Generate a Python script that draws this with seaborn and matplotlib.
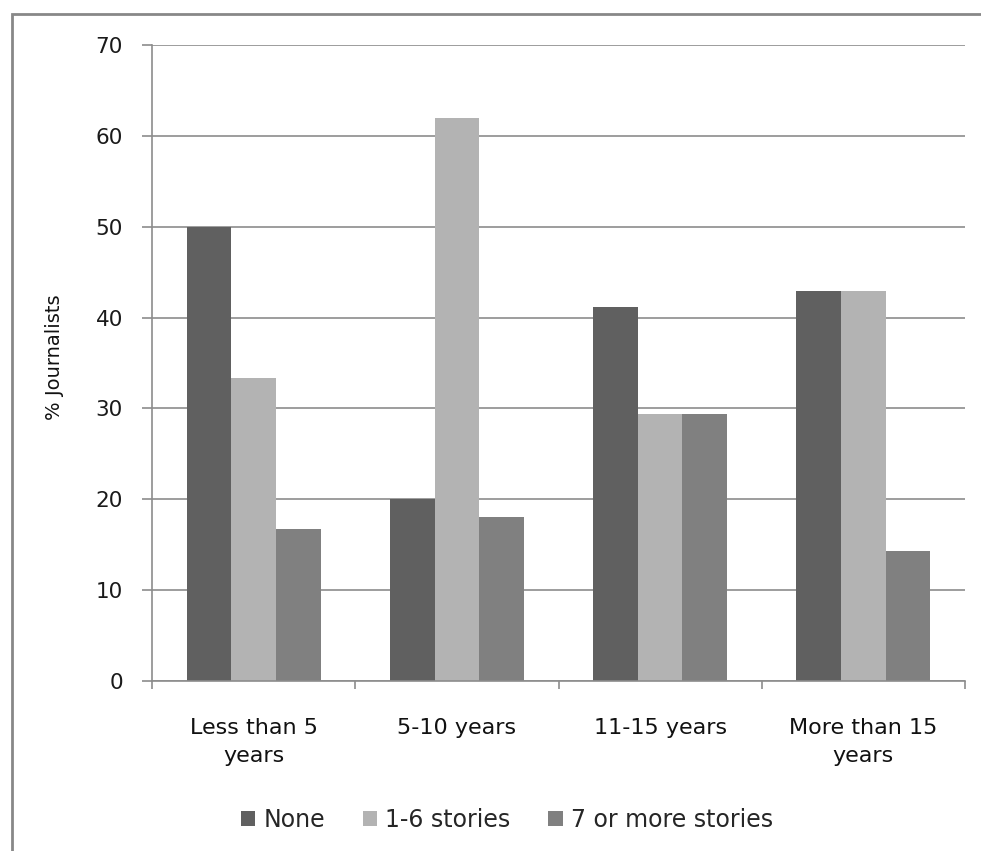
import matplotlib
matplotlib.use("Agg")
import matplotlib.pyplot as plt
import seaborn as sns
import pandas as pd
from matplotlib.patches import Rectangle

categories = ["Less than 5\nyears", "5-10 years", "11-15 years", "More than 15\nyears"]
series_names = ["None", "1-6 stories", "7 or more stories"]
none_vals = [50.0, 20.0, 41.2, 42.9]
few_vals = [33.3, 62.0, 29.4, 42.9]
many_vals = [16.7, 18.0, 29.4, 14.3]
y_ticks = [0, 10, 20, 30, 40, 50, 60, 70]
colors = ["#606060", "#b3b3b3", "#808080"]

rows = []
for name, vals in zip(series_names, [none_vals, few_vals, many_vals]):
    for cat, v in zip(categories, vals):
        rows.append({"Experience": cat, "Stories": name, "Pct": v})
df = pd.DataFrame(rows)

sns.set_theme(style="white")
plt.rcParams["font.family"] = ["DejaVu Sans"]

W, H = 981, 851
fig = plt.figure(figsize=(W / 100, H / 100), dpi=100)
ax = fig.add_axes([152 / W, 1 - 681 / H, (965 - 152) / W, (681 - 45) / H])

sns.barplot(data=df, x="Experience", y="Pct", hue="Stories",
            hue_order=series_names, order=categories, palette=colors,
            width=0.66, saturation=1, linewidth=0, ax=ax, legend=True,
            errorbar=None)

grey = "#8c8c8c"
ax.set_ylim(0, 70)
ax.set_xlim(-0.5, 3.5)
ax.set_yticks(y_ticks)
ax.set_yticklabels([str(t) for t in y_ticks], fontsize=15.5, color="#1a1a1a")
ax.yaxis.grid(True, color=grey, linewidth=1.2)
ax.set_axisbelow(True)
for s in ["top", "right"]:
    ax.spines[s].set_visible(False)
for s in ["left", "bottom"]:
    ax.spines[s].set_color(grey)
    ax.spines[s].set_linewidth(1.2)
ax.tick_params(axis="y", length=7, width=1.2, color=grey, pad=14, left=True)

# category boundary ticks on the x axis
ax.set_xticks([-0.5, 0.5, 1.5, 2.5, 3.5], minor=True)
ax.tick_params(axis="x", which="minor", length=6, width=1.2, color=grey, bottom=True)
ax.tick_params(axis="x", which="major", length=0, pad=27, labelsize=16, labelcolor="#111111")
for lbl in ax.get_xticklabels():
    lbl.set_linespacing(1.5)
ax.set_xlabel("")
ax.set_ylabel("")
fig.text(55 / W, 1 - 357 / H, "% Journalists", rotation=90, fontsize=14,
         color="#111111", ha="center", va="center")

handles, labels = ax.get_legend_handles_labels()
ax.get_legend().remove()
fig.legend(handles, labels, loc="center", bbox_to_anchor=(507 / W, 1 - 820 / H),
           ncol=3, frameon=False, fontsize=17, handlelength=0.6,
           handleheight=0.6, handletextpad=0.35, columnspacing=1.6)

# outer chart border (right and bottom edges fall outside the canvas)
fig.patches.append(Rectangle((12 / W, -0.05), 1.2, 1 - 14 / H + 0.05,
                             transform=fig.transFigure, fill=False,
                             edgecolor="#888888", linewidth=2))

fig.savefig("out.png", dpi=100)
